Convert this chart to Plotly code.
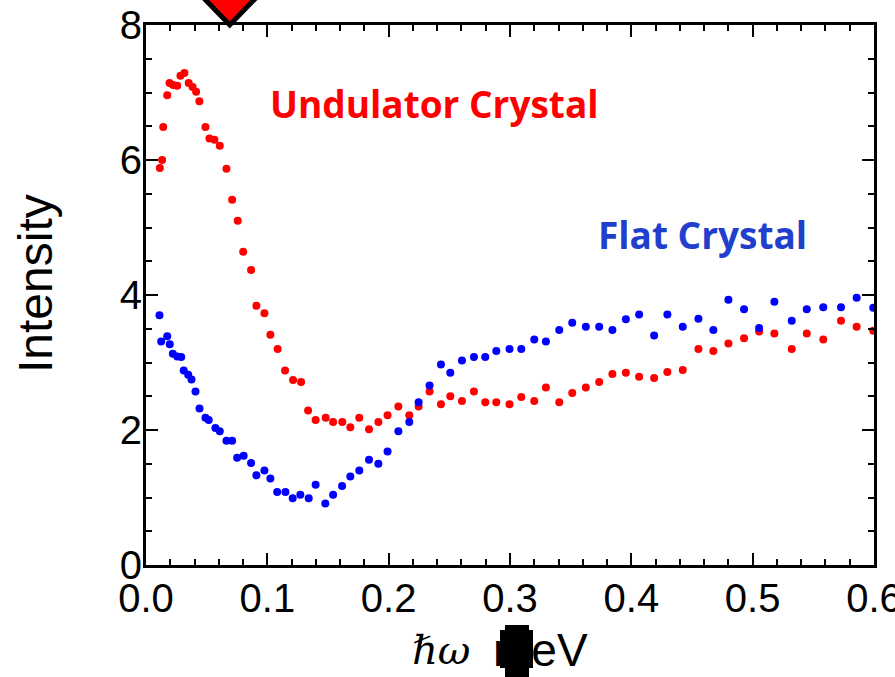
import plotly.graph_objects as go

# Undulator crystal (red)
undulator_x = [0.0114, 0.0133, 0.0142, 0.0175, 0.0194, 0.0224, 0.0257, 0.0284, 0.0317, 0.0352,
               0.0384, 0.0413, 0.0440, 0.0490, 0.0523, 0.0564, 0.0608, 0.0663, 0.0710, 0.0756,
               0.0801, 0.0866, 0.0910, 0.0976, 0.1025, 0.1085, 0.1146, 0.1212, 0.1278, 0.1336,
               0.1398, 0.1481, 0.1542, 0.1618, 0.1684, 0.1758, 0.1838, 0.1915, 0.1991, 0.2080,
               0.2170, 0.2247, 0.2337, 0.2431, 0.2508, 0.2604, 0.2703, 0.2796, 0.2887, 0.2996,
               0.3093, 0.3200, 0.3296, 0.3406, 0.3513, 0.3625, 0.3735, 0.3844, 0.3955, 0.4064,
               0.4188, 0.4297, 0.4424, 0.4553, 0.4676, 0.4800, 0.4929, 0.5053, 0.5179, 0.5322,
               0.5446, 0.5582, 0.5728, 0.5857, 0.5994]
undulator_y = [5.88, 6.00, 6.49, 6.96, 7.14, 7.11, 7.10, 7.25, 7.29, 7.14,
               7.08, 7.01, 6.87, 6.49, 6.32, 6.30, 6.21, 5.87, 5.41, 5.10,
               4.64, 4.37, 3.84, 3.73, 3.41, 3.20, 2.88, 2.74, 2.71, 2.29,
               2.15, 2.18, 2.12, 2.12, 2.04, 2.18, 2.01, 2.12, 2.22, 2.35,
               2.22, 2.35, 2.57, 2.38, 2.50, 2.43, 2.57, 2.41, 2.41, 2.38,
               2.49, 2.43, 2.63, 2.41, 2.55, 2.63, 2.71, 2.83, 2.85, 2.79,
               2.77, 2.86, 2.89, 3.20, 3.17, 3.28, 3.36, 3.46, 3.43, 3.20,
               3.43, 3.34, 3.62, 3.53, 3.47]

# Flat crystal (blue)
flat_x = [0.0111, 0.0125, 0.0175, 0.0196, 0.0221, 0.0257, 0.0290, 0.0311, 0.0348, 0.0375,
          0.0408, 0.0441, 0.0490, 0.0517, 0.0572, 0.0608, 0.0663, 0.0710, 0.0751, 0.0805,
          0.0866, 0.0910, 0.0976, 0.1025, 0.1081, 0.1149, 0.1209, 0.1272, 0.1341, 0.1398,
          0.1478, 0.1542, 0.1616, 0.1684, 0.1758, 0.1838, 0.1915, 0.1991, 0.2080, 0.2170,
          0.2247, 0.2337, 0.2431, 0.2508, 0.2604, 0.2703, 0.2796, 0.2887, 0.2996, 0.3093,
          0.3200, 0.3296, 0.3406, 0.3513, 0.3625, 0.3735, 0.3844, 0.3955, 0.4064, 0.4188,
          0.4297, 0.4424, 0.4553, 0.4676, 0.4800, 0.4929, 0.5053, 0.5179, 0.5322, 0.5446,
          0.5582, 0.5728, 0.5857, 0.5994]
flat_y = [3.70, 3.31, 3.39, 3.27, 3.13, 3.09, 3.08, 2.88, 2.82, 2.75,
          2.57, 2.32, 2.18, 2.15, 2.03, 1.98, 1.84, 1.84, 1.59, 1.62,
          1.51, 1.33, 1.40, 1.28, 1.08, 1.08, 0.99, 1.04, 0.99, 1.19,
          0.91, 1.04, 1.17, 1.31, 1.40, 1.56, 1.50, 1.68, 1.98, 2.12,
          2.41, 2.66, 2.97, 2.85, 3.03, 3.08, 3.08, 3.17, 3.20, 3.20,
          3.34, 3.31, 3.48, 3.59, 3.53, 3.53, 3.48, 3.64, 3.71, 3.40,
          3.71, 3.53, 3.65, 3.48, 3.93, 3.79, 3.51, 3.90, 3.62, 3.79,
          3.82, 3.82, 3.96, 3.81]

x_tick_vals = [0.0, 0.1, 0.2, 0.3, 0.4, 0.5, 0.6]
x_tick_text = ["0.0", "0.1", "0.2", "0.3", "0.4", "0.5", "0.6"]
y_tick_vals = [0, 2, 4, 6, 8]
y_tick_text = ["0", "2", "4", "6", "8"]
arrow_x = 0.069
X_RANGE = [0, 0.6]
Y_RANGE = [0, 8]

# body margin removed by post_script, so figure fills the 895x677 window
OFF = 0
W, H = 895, 677
ML, MR, MT, MB = 146, 21, 25, 112
PW, PH = W - ML - MR, H - MT - MB


def px_to_paper(sx, sy):
    fx, fy = sx - OFF, sy - OFF
    return (fx - ML) / PW, (H - MB - fy) / PH


fig = go.Figure()
fig.add_trace(go.Scatter(x=undulator_x, y=undulator_y, mode="markers",
                         marker=dict(color="#ff0000", size=8), name="Undulator Crystal"))
fig.add_trace(go.Scatter(x=flat_x, y=flat_y, mode="markers",
                         marker=dict(color="#0000ff", size=8), name="Flat Crystal"))

axis_common = dict(showline=True, linecolor="black", linewidth=3, mirror="ticks",
                   ticks="inside", tickcolor="black", tickwidth=2, ticklen=12,
                   showgrid=False, zeroline=False, automargin=False,
                   tickfont=dict(family="Liberation Sans, Arial", size=40, color="black"))

fig.update_xaxes(range=X_RANGE, tickvals=x_tick_vals, ticktext=x_tick_text,
                 ticklabeloverflow="allow", ticklabelstandoff=-4,
                 minor=dict(ticks="inside", dtick=0.02, ticklen=6, tickwidth=2, tickcolor="black"),
                 **axis_common)
fig.update_yaxes(range=Y_RANGE, tickvals=y_tick_vals, ticktext=y_tick_text,
                 ticklabeloverflow="allow", ticklabelstandoff=-7,
                 minor=dict(ticks="inside", dtick=0.5, ticklen=6, tickwidth=2, tickcolor="black"),
                 **axis_common)

# arrow marker at the top
ax_p = (arrow_x - X_RANGE[0]) / (X_RANGE[1] - X_RANGE[0])
tip_y = 1.0
top_y = 1.0 + 28 / PH
hw = 27 / PW
fig.add_shape(type="path", xref="paper", yref="paper",
              path=f"M {ax_p - hw} {top_y} L {ax_p} {tip_y} L {ax_p + hw} {top_y} Z",
              fillcolor="#ff0000", line=dict(color="black", width=5))

# x axis title pieces
hx, hy = px_to_paper(472, 650)
fig.add_annotation(xref="paper", yref="paper", x=hx, y=hy, xanchor="right", yanchor="middle",
                   text="<i>ℏω</i>", showarrow=False,
                   font=dict(family="DejaVu Serif", size=40, color="black"))
mx, my = px_to_paper(590, 650)
fig.add_annotation(xref="paper", yref="paper", x=mx, y=my, xanchor="right", yanchor="middle",
                   text="meV", showarrow=False,
                   font=dict(family="Liberation Sans, Arial", size=46, color="black"))
r0x, r0y = px_to_paper(505, 625)
r1x, r1y = px_to_paper(529, 680)
fig.add_shape(type="rect", xref="paper", yref="paper", x0=r0x, x1=r1x, y0=r1y, y1=r0y,
              fillcolor="black", line=dict(color="black", width=0))
o0x, o0y = px_to_paper(500, 630)
o1x, o1y = px_to_paper(533, 668)
fig.add_shape(type="rect", xref="paper", yref="paper", x0=o0x, x1=o1x, y0=o1y, y1=o0y,
              fillcolor="black", line=dict(color="black", width=0))

# y axis title
ix, iy = px_to_paper(35, 283)
fig.add_annotation(xref="paper", yref="paper", x=ix, y=iy, text="Intensity", textangle=-90,
                   showarrow=False, xanchor="center", yanchor="middle",
                   font=dict(family="Liberation Sans, Arial", size=48, color="black"))

# series labels
ux, uy = px_to_paper(268, 104)
fig.add_annotation(xref="paper", yref="paper", x=ux, y=uy, xanchor="left", yanchor="middle",
                   text="<b>Undulator Crystal</b>", showarrow=False,
                   font=dict(family="Open Sans", size=37, color="#ff0000"))
fx, fy = px_to_paper(596, 235)
fig.add_annotation(xref="paper", yref="paper", x=fx, y=fy, xanchor="left", yanchor="middle",
                   text="<b>Flat Crystal</b>", showarrow=False,
                   font=dict(family="Open Sans", size=37, color="#1f3fcc"))

fig.update_layout(width=W, height=H, margin=dict(l=ML, r=MR, t=MT, b=MB, autoexpand=False),
                  plot_bgcolor="white", paper_bgcolor="white", showlegend=False)

fig.write_html("out.html", config={"displayModeBar": False},
               post_script="document.body.style.margin='0';document.body.style.overflow='hidden';")
